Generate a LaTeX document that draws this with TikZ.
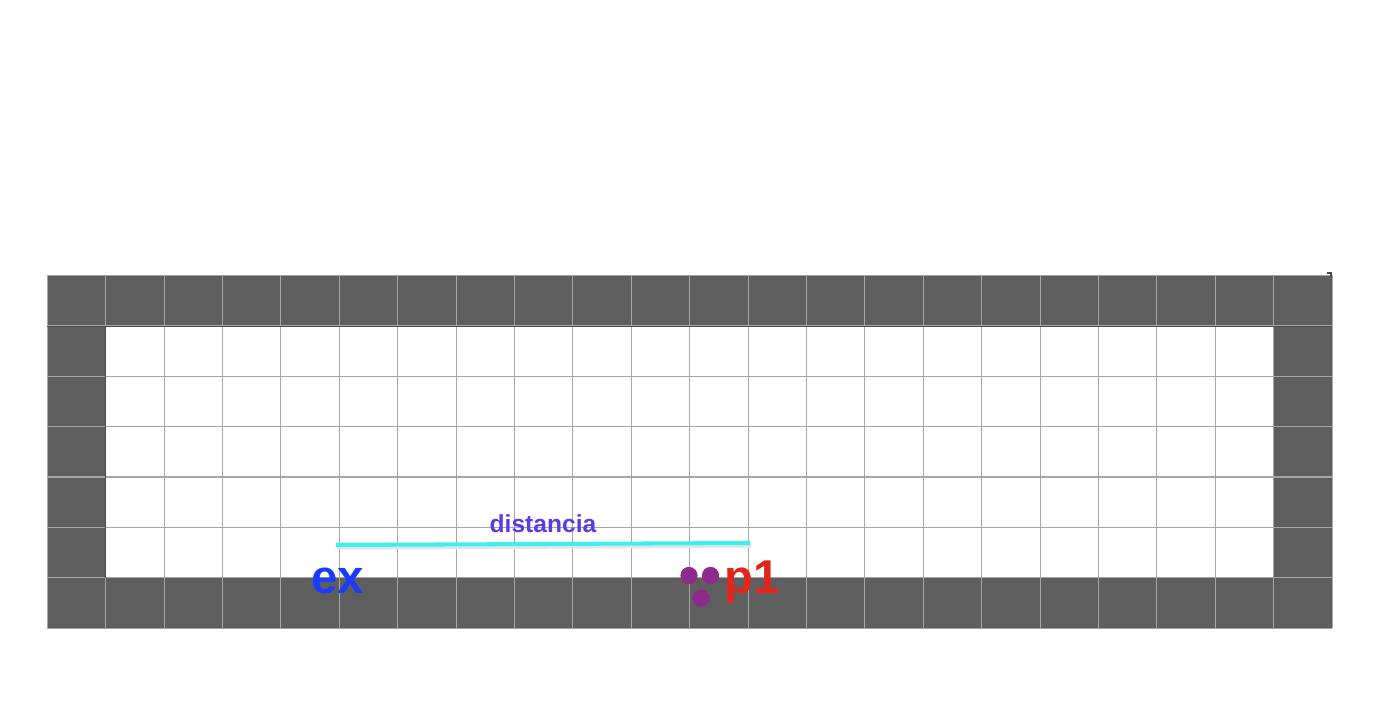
\documentclass[tikz,border=0pt]{standalone}
\usepackage{fontspec}
\setmainfont{Liberation Sans}
\usetikzlibrary{positioning}
\definecolor{wallgray}{HTML}{5E5E5E}
\definecolor{gridgray}{HTML}{A6A6A6}
\definecolor{raycyan}{HTML}{3CF0F0}
\definecolor{distblue}{HTML}{5B3BE6}
\definecolor{exblue}{HTML}{1A3CFF}
\definecolor{pred}{HTML}{E3261A}
\definecolor{dotpurple}{HTML}{8E2A8E}
\begin{document}
\begin{tikzpicture}[x=0.02cm, y=-0.02cm,
  wall/.style={fill=wallgray},
  gridline/.style={draw=gridgray, line width=0.6pt},
  edge/.style={draw=black!70, line width=0.7pt},
  ray/.style={draw=raycyan, line width=2.3pt},
  raylabel/.style={font=\bfseries\fontsize{14}{16}\selectfont, text=distblue, inner sep=0pt},
  bigtag/.style={font=\bfseries\fontsize{27}{30}\selectfont, inner sep=0pt, anchor=base west},
  dot/.style={circle, fill=dotpurple, minimum size=9.8pt, inner sep=0pt}
]
\useasboundingbox (0,0) rectangle (1392,712);
\fill[white] (0,0) rectangle (1392,712);
\fill[wall] (47.3,275.3) rectangle (1332,326.3);
\fill[wall] (47.3,578.3) rectangle (1332,628.3);
\fill[wall] (47.3,326.3) rectangle (105.7,578.3);
\fill[wall] (1273.6,326.3) rectangle (1332,578.3);
\foreach \c in {0,...,22}
  \draw[gridline] (47.3+\c*58.4,275.3) -- ++(0,353);
\foreach \r in {0,...,7}
  \draw[gridline] (47.3,275.3+\r*50.43) -- ++(1284.7,0);
\draw[edge] (47.3,326.3) -- (1332,326.3);
\draw[edge] (105.7,326.3) -- (105.7,578.3);
\draw[black!70, line width=0.6pt] (1327,273) -- (1331,273) -- (1331,277);

\coordinate (dstart) at (336,545);
\coordinate (dend) at (750,543);
\draw[black!10, line width=2pt] ([shift={(1,3)}]dstart) -- ([shift={(1,3)}]dend);
\draw[ray] (dstart) -- node[raylabel, above=5.5pt] (dist) {distancia} (dend);

\node[bigtag, text=exblue] (ex) at (311,593) {ex};
\node[dot] (d1) at (689,575.5) {};
\node[dot] (d2) at (710.5,575.5) {};
\node[dot] (d3) at (701,598) {};
\node[bigtag, text=pred] (p1) at (724,593) {p1};
\end{tikzpicture}
\end{document}
